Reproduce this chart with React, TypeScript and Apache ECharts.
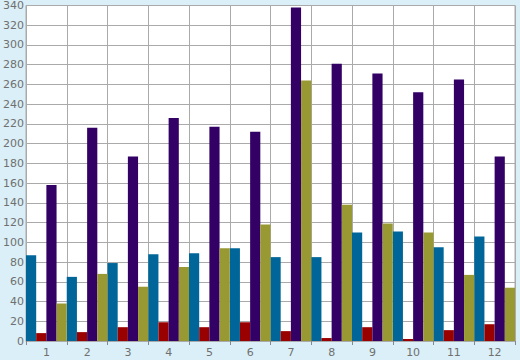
import React, { useEffect, useRef } from "react";
import * as echarts from "echarts";

const categories = ["1", "2", "3", "4", "5", "6", "7", "8", "9", "10", "11", "12"];
const blueValues = [87, 65, 79, 88, 89, 94, 85, 85, 110, 111, 95, 106];
const redValues = [8, 9, 14, 19, 14, 19, 10, 3, 14, 2, 11, 17];
const purpleValues = [158, 216, 187, 226, 217, 212, 338, 281, 271, 252, 265, 187];
const oliveValues = [38, 68, 55, 75, 94, 118, 264, 138, 119, 110, 67, 54];
const seriesColors = ["#006699", "#990000", "#330066", "#999933"];

export default function App() {
  const ref = useRef<HTMLDivElement>(null);
  useEffect(() => {
    document.body.style.margin = "0";
    const chart = echarts.init(ref.current!, null, { renderer: "svg" });
    const mk = (data: number[], i: number) => ({
      type: "bar",
      data,
      barGap: "0%",
      barCategoryGap: "0%",
      itemStyle: { color: seriesColors[i] },
    });
    chart.setOption({
      animation: false,
      backgroundColor: "#daeff7",
      grid: {
        left: 26,
        right: 5,
        top: 5,
        bottom: 19,
        show: true,
        backgroundColor: "#ffffff",
        borderColor: "#aaaaaa",
        borderWidth: 1,
      },
      xAxis: {
        type: "category",
        data: categories,
        axisLine: { lineStyle: { color: "#aaaaaa" } },
        axisTick: { show: true, length: 4, lineStyle: { color: "#888888" } },
        splitLine: { show: true, lineStyle: { color: "#aaaaaa", width: 1 } },
        axisLabel: { color: "#707070", fontFamily: "DejaVu Sans", fontSize: 11, margin: 6 },
      },
      yAxis: {
        type: "value",
        min: 0,
        max: 340,
        interval: 20,
        axisLine: { show: true, lineStyle: { color: "#aaaaaa" } },
        axisTick: { show: false },
        splitLine: { show: true, lineStyle: { color: "#aaaaaa", width: 1 } },
        axisLabel: { color: "#707070", fontFamily: "DejaVu Sans", fontSize: 11, margin: 2 },
      },
      series: [mk(blueValues, 0), mk(redValues, 1), mk(purpleValues, 2), mk(oliveValues, 3)],
    });
    return () => chart.dispose();
  }, []);
  return <div ref={ref} style={{ position: "absolute", left: 0, top: 0, width: 520, height: 360 }} />;
}
